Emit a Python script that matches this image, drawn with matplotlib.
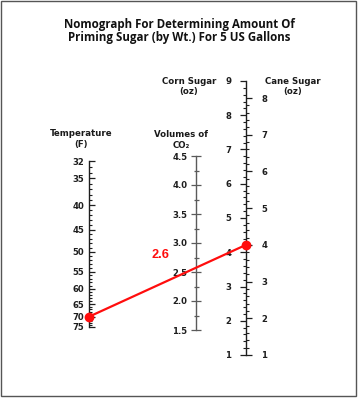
import numpy as np
import matplotlib
matplotlib.use("Agg")
import matplotlib.pyplot as plt
from matplotlib.ticker import FixedLocator, MultipleLocator, NullFormatter
from matplotlib.patches import ConnectionPatch, Rectangle

# ---------------- data ----------------
title_lines = ["Nomograph For Determining Amount Of",
               "Priming Sugar (by Wt.) For 5 US Gallons"]
temp_ticks = [32, 35, 40, 45, 50, 55, 60, 65, 70, 75]
temp_minor = list(range(32, 76))
co2_ticks = [1.5, 2.0, 2.5, 3.0, 3.5, 4.0, 4.5]
corn_ticks = [1, 2, 3, 4, 5, 6, 7, 8, 9]
cane_ticks = [1, 2, 3, 4, 5, 6, 7, 8]
sel_temp = 70
sel_cane = 4
sel_co2 = 2.6

# ---------------- layout helpers (pixels -> figure fraction) ----------------
W, H = 358, 400
def fx(px): return px / W
def fy(py): return 1 - py / H

fig = plt.figure(figsize=(W / 100, H / 100), dpi=100)
fig.patch.set_facecolor("white")

TICKFONT = dict(family="DejaVu Sans", size=6.1, weight="bold")
DARK = "#1e1e1e"

# residual CO2 of the beer as a function of temperature (nomograph scale)
A, B, C = 0.00026555, -0.050062, 3.0378
def fwd(T):
    T = np.asarray(T, dtype=float)
    return -(C + B * T + A * T ** 2)
def inv(v):
    r = -np.asarray(v, dtype=float)
    disc = np.clip(B ** 2 - 4 * A * (C - r), 0, None)
    return (-B - np.sqrt(disc)) / (2 * A)

def make_axis(x_px, top_px, bot_px, spine, color=DARK):
    w = 0.05
    left = fx(x_px) if spine == "left" else fx(x_px) - w
    ax = fig.add_axes([left, fy(bot_px), w, (bot_px - top_px) / H])
    ax.patch.set_visible(False)
    for s in ax.spines.values():
        s.set_visible(False)
    ax.spines[spine].set_visible(True)
    ax.spines[spine].set_color(color)
    ax.spines[spine].set_linewidth(1.0)
    ax.set_xlim(0, 1)
    ax.xaxis.set_visible(False)
    ax.yaxis.set_ticks_position(spine)
    ax.yaxis.set_label_position(spine)
    return ax

# ---- temperature axis ----
ax_t = make_axis(89, 161, 327, "left")
ax_t.set_yscale("function", functions=(fwd, inv))
ax_t.set_ylim(75, 32)
ax_t.yaxis.set_major_locator(FixedLocator(temp_ticks))
ax_t.yaxis.set_minor_locator(FixedLocator(temp_minor))
ax_t.yaxis.set_minor_formatter(NullFormatter())
ax_t.set_yticklabels([str(t) for t in temp_ticks], fontdict=TICKFONT, color=DARK)
ax_t.tick_params(axis="y", which="major", direction="in", length=4.3, width=0.9, color=DARK, pad=3.4)
ax_t.tick_params(axis="y", which="minor", direction="in", length=2.4, width=0.8, color=DARK)

# ---- CO2 axis ----
GRAY = "#5a5a5a"
ax_c = make_axis(196, 156, 330, "left", color=GRAY)
ax_c.set_ylim(1.5, 4.5)
ax_c.yaxis.set_major_locator(FixedLocator(co2_ticks))
ax_c.yaxis.set_minor_locator(MultipleLocator(0.25))
ax_c.yaxis.set_minor_formatter(NullFormatter())
ax_c.set_yticklabels([f"{v:.1f}" for v in co2_ticks], fontdict=TICKFONT, color=DARK)
ax_c.tick_params(axis="y", which="major", direction="inout", length=6.5, width=0.9, color=GRAY, pad=3.0)
ax_c.tick_params(axis="y", which="minor", direction="inout", length=3.6, width=0.9, color=GRAY)

# ---- corn sugar axis (left ticks) ----
ax_corn = make_axis(246, 81, 355, "left")
ax_corn.set_ylim(1, 9)
ax_corn.yaxis.set_major_locator(FixedLocator(corn_ticks))
ax_corn.yaxis.set_minor_locator(MultipleLocator(0.2))
ax_corn.yaxis.set_minor_formatter(NullFormatter())
ax_corn.set_yticklabels([str(v) for v in corn_ticks], fontdict=TICKFONT, color=DARK)
ax_corn.tick_params(axis="y", which="major", direction="out", length=4.2, width=0.9, color=DARK, pad=6.3)
ax_corn.tick_params(axis="y", which="minor", direction="out", length=2.3, width=0.8, color=DARK)

# ---- cane sugar axis (right ticks) ----
ax_cane = make_axis(246, 98, 355, "right")
ax_cane.spines["right"].set_visible(False)
ax_cane.set_ylim(1, 8)
ax_cane.yaxis.set_major_locator(FixedLocator(cane_ticks))
ax_cane.yaxis.set_minor_locator(MultipleLocator(0.2))
ax_cane.yaxis.set_minor_formatter(NullFormatter())
ax_cane.set_yticklabels([str(v) for v in cane_ticks], fontdict=TICKFONT, color=DARK)
ax_cane.tick_params(axis="y", which="major", direction="out", length=4.6, width=0.9, color=DARK, pad=6.5)
ax_cane.tick_params(axis="y", which="minor", direction="out", length=2.3, width=0.8, color=DARK)

# ---- selection line ----
RED = "#ff0d0d"
con = ConnectionPatch(xyA=(0, sel_temp), coordsA=ax_t.transData,
                      xyB=(1, sel_cane), coordsB=ax_cane.transData,
                      color=RED, lw=1.6, arrowstyle="-", zorder=5)
fig.add_artist(con)
ax_t.plot([0], [sel_temp], "o", color=RED, ms=6, clip_on=False, zorder=6)
ax_cane.plot([1], [sel_cane], "o", color=RED, ms=6, clip_on=False, zorder=6)
ax_c.annotate(f"{sel_co2}", xy=(0, sel_co2), xycoords="data",
              xytext=(-36, 11), textcoords="offset pixels",
              ha="center", va="center", color=RED,
              family="Liberation Sans", weight="bold", size=9.2)

# ---- titles ----
TF = dict(family="Open Sans", weight="bold", size=8.3, color="#111111",
          ha="center", va="center")
fig.text(fx(179), fy(24.5), title_lines[0], **TF)
fig.text(fx(179), fy(37.5), title_lines[1], **TF)

LF = dict(family=["DejaVu Sans"], weight="bold", size=6.2, color="#1a1a1a",
          ha="center", va="center")
fig.text(fx(81), fy(134), "Temperature", **LF)
fig.text(fx(81), fy(144), "(F)", **LF)
fig.text(fx(181), fy(134.5), "Volumes of", **LF)
fig.text(fx(181), fy(145), "CO\u2082", **LF)
fig.text(fx(189), fy(81), "Corn Sugar", **LF)
fig.text(fx(189), fy(91.5), "(oz)", **LF)
fig.text(fx(293), fy(81), "Cane Sugar", **LF)
fig.text(fx(293), fy(91.5), "(oz)", **LF)

# ---- frame ----
fig.add_artist(Rectangle((fx(1), fy(396)), fx(356) - fx(1), fy(0.5) - fy(396),
                         transform=fig.transFigure, fill=False,
                         edgecolor="#555555", lw=1.0))

fig.savefig("out.png", dpi=100)
